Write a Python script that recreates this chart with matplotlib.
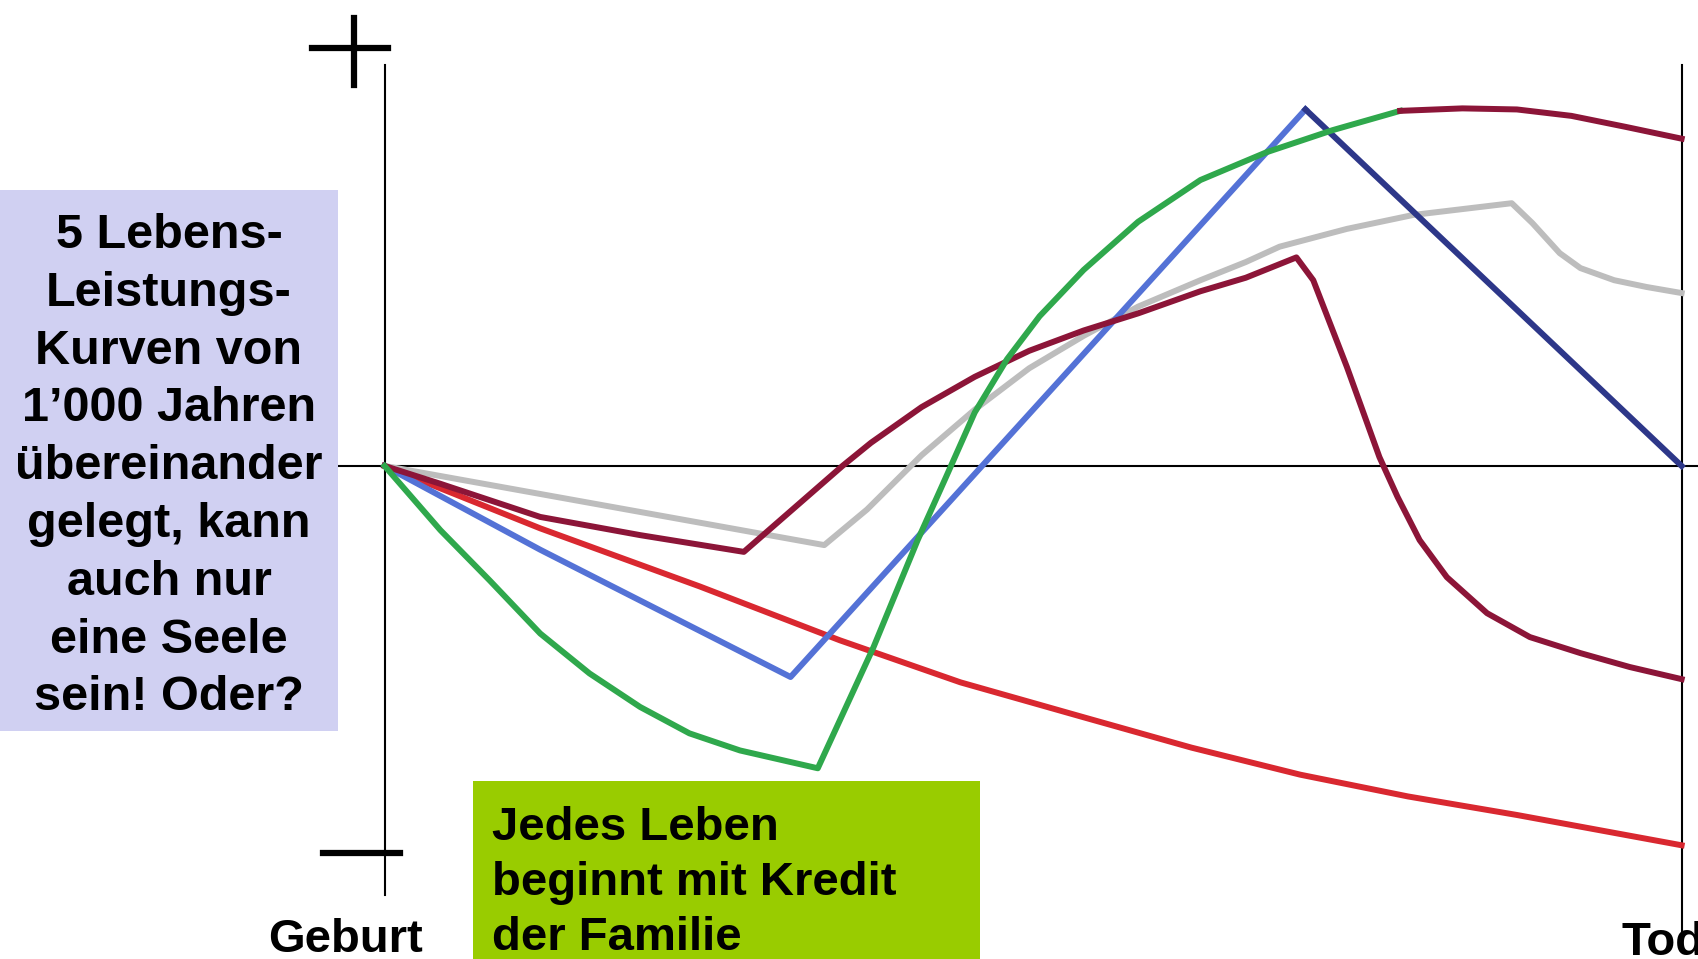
import matplotlib.pyplot as plt
import matplotlib.transforms as mtransforms
from matplotlib.patches import Rectangle

# life span 0 (Geburt) .. 100 (Tod), performance +/- 
red_x = [0, 12, 24.3, 35.1, 44.4, 53.9, 62.2, 70.6, 78.9, 87.3, 100]
red_y = [0, -17.5, -33.8, -48.9, -60.7, -70.5, -79, -86.6, -92.7, -97.9, -106.4]

green_x = [0, 4.3, 8.1, 12, 15.8, 19.7, 23.5, 27.4, 33.4, 37.7, 41.1, 43.3, 45.5,
           48, 50.5, 53.9, 58.1, 62.9, 68, 73.1, 78.3]
green_y = [0, -18, -32.1, -47, -58.2, -67.6, -75, -79.8, -84.8, -50.8, -20.8, -3, 15,
           30, 42, 55, 68.5, 80.2, 88, 94.2, 99.6]
# continuation of the green curve after its peak
top_x = [78.3, 83.1, 87.3, 91.5, 95.7, 100]
top_y = [99.6, 100.3, 100, 98.2, 95.1, 91.8]

blue_up_x = [0, 12, 31.3, 71]
blue_up_y = [0, -23.5, -59.2, 100]
blue_down_x = [71, 100]
blue_down_y = [100, 0]

maroon_x = [0, 4.3, 12, 19.7, 27.7, 35.3, 37.5, 41.4, 45.5, 49.7, 53.9, 58.1, 62.9,
            66.4, 70.3, 71.6, 74.2, 76.7, 78.1, 79.8, 81.9, 85, 88.3, 92.2, 96, 100]
maroon_y = [0, -5, -14.3, -19.4, -24.1, 0, 6.5, 16.5, 25, 32.3, 38, 42.8, 49,
            52.8, 58.5, 52.1, 27.7, 2.5, -8.7, -20.8, -31.2, -41.3, -48, -52.5, -56.4, -59.8]

gray_x = [0, 33.9, 37.2, 41.4, 45.5, 49.7, 53.9, 58.1, 62.9, 66.4, 69, 74.2, 79.3,
          86.9, 88.5, 90.6, 92.2, 94.8, 97.3, 100]
gray_y = [0, -22.2, -12.2, 3, 15.8, 27.4, 36.5, 44.7, 52.1, 57.2, 61.5, 66.5, 70.4,
          73.7, 68.1, 59.7, 55.5, 52.1, 50.2, 48.5]

left_text = ["5 Lebens-", "Leistungs-", "Kurven von", "1\u2019000 Jahren",
             "\u00fcbereinander", "gelegt, kann", "auch nur", "eine Seele", "sein! Oder?"]
green_text = ["Jedes Leben", "beginnt mit Kredit", "der Familie"]

W, H = 1699, 959
fig = plt.figure(figsize=(W / 100, H / 100), dpi=100)
ax = fig.add_axes([0, 0, 1, 1])
ax.set_xlim(-29.65, 101.34)
ax.set_ylim(-138.3, 130.7)
ax.axis('off')

# pixel coordinates, origin top left
pix = mtransforms.Affine2D().scale(1 / W, -1 / H).translate(0, 1) + fig.transFigure

# axes cross, plus and minus signs
ax.plot([339, W], [466, 466], color='black', lw=1.5, transform=pix)
ax.plot([385, 385], [65, 895], color='black', lw=1.5, transform=pix)
ax.plot([1682, 1682], [65, 943], color='black', lw=1.5, transform=pix)
ax.plot([312, 388], [48, 48], color='black', lw=4.5, transform=pix)
ax.plot([354, 354], [18, 85], color='black', lw=4.5, transform=pix)
ax.plot([323, 400], [853, 853], color='black', lw=4.5, transform=pix)

lw = 4.3
ax.plot(gray_x, gray_y, color='#bdbdbd', lw=lw, solid_joinstyle='round')
ax.plot(red_x, red_y, color='#d92830', lw=lw, solid_joinstyle='round')
ax.plot(blue_up_x, blue_up_y, color='#5472d6', lw=lw, solid_joinstyle='round')
ax.plot(blue_down_x, blue_down_y, color='#2d3789', lw=lw, solid_joinstyle='round')
ax.plot(maroon_x, maroon_y, color='#8c1538', lw=lw, solid_joinstyle='round')
ax.plot(green_x, green_y, color='#2fa84c', lw=lw, solid_joinstyle='round')
ax.plot(top_x, top_y, color='#8c1538', lw=lw, solid_joinstyle='round')

font = dict(family=['Liberation Sans', 'DejaVu Sans'], weight='bold', color='black')

# left info box
ax.add_patch(Rectangle((0, 190), 338, 541, facecolor='#d0d0f2', edgecolor='none',
                       transform=pix, zorder=5))
for i, line in enumerate(left_text):
    ax.text(169, 248 + i * 57.8, line, transform=pix, ha='center', va='baseline',
            fontsize=35, zorder=6, **font)

# green box
ax.add_patch(Rectangle((473, 781), 507, 180, facecolor='#99cc00', edgecolor='none',
                       transform=pix, zorder=5))
for i, line in enumerate(green_text):
    ax.text(492, 840 + i * 55, line, transform=pix, ha='left', va='baseline',
            fontsize=34, zorder=6, **font)

ax.text(346, 952, "Geburt", transform=pix, ha='center', va='baseline', fontsize=34, **font)
ax.text(1622, 955, "Tod", transform=pix, ha='left', va='baseline', fontsize=34, **font)

fig.savefig('out.png', dpi=100)
